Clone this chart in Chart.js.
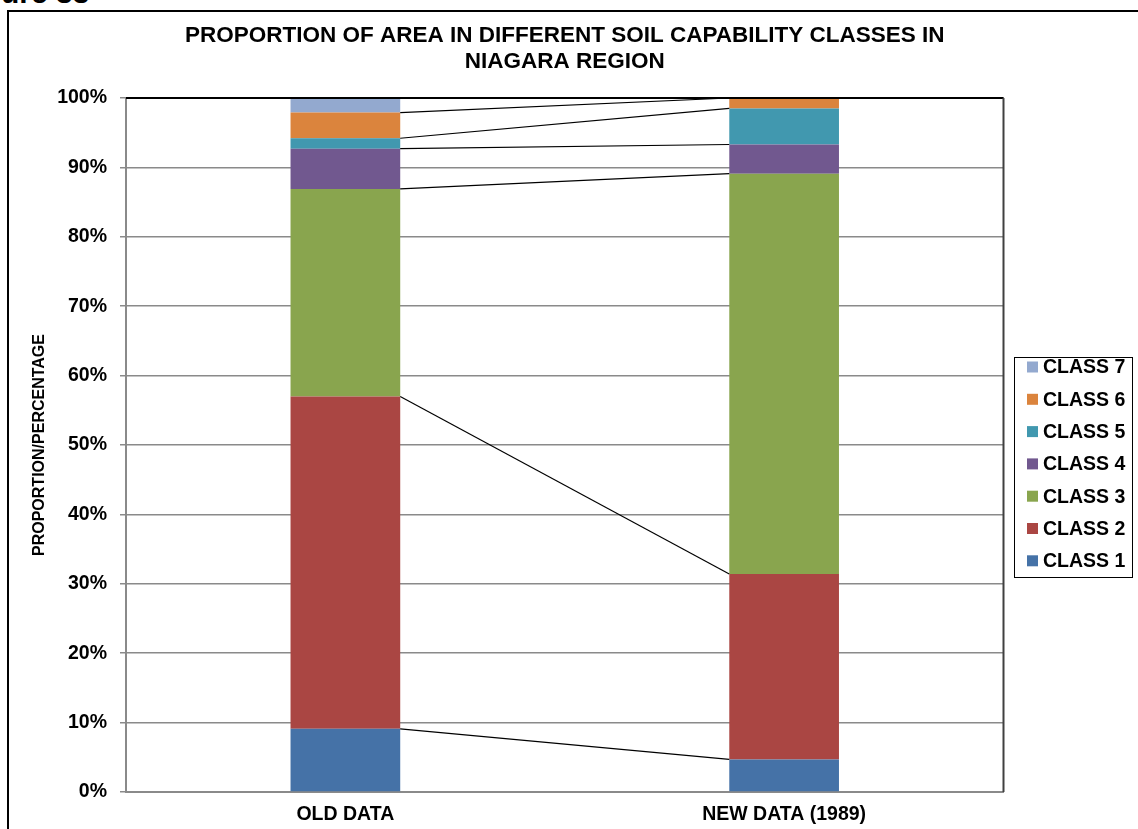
<!DOCTYPE html>
<html>
<head>
<meta charset="utf-8">
<script src="https://cdn.jsdelivr.net/npm/chart.js@4.4.1/dist/chart.umd.min.js"></script>
<style>
  html, body { margin: 0; padding: 0; background: #fff; overflow: hidden; }
  #wrap { position: relative; width: 1138px; height: 829px; }
  #fig { position: absolute; left: -44px; top: -24px; font: bold 30px "Liberation Sans", Arial, sans-serif; color: #000; white-space: nowrap; }
  #frame { position: absolute; left: 7px; top: 10px; width: 1200px; height: 900px; border-left: 2px solid #000; border-top: 2px solid #000; }
  canvas { position: absolute; left: 0; top: 0; }
</style>
</head>
<body>
<div id="wrap">
  <div id="fig">Figure 33</div>
  <div id="frame"></div>
  <canvas id="c" width="1138" height="829"></canvas>
</div>
<script>
// Soil capability classes, share of area (%)
const categories = ['OLD DATA', 'NEW DATA (1989)'];
const class1 = [9.1, 4.7];
const class2 = [47.9, 26.7];
const class3 = [29.9, 57.7];
const class4 = [5.8, 4.2];
const class5 = [1.5, 5.2];
const class6 = [3.7, 1.5];
const class7 = [2.1, 0];
const yTicks = [0, 10, 20, 30, 40, 50, 60, 70, 80, 90, 100];

const titleLines = ['PROPORTION OF AREA IN DIFFERENT SOIL CAPABILITY CLASSES IN', 'NIAGARA REGION'];
const yTitle = 'PROPORTION/PERCENTAGE';

const FONT = '"Liberation Sans", Arial, sans-serif';

const series = [
  { label: 'CLASS 1', data: class1, color: '#4572A7' },
  { label: 'CLASS 2', data: class2, color: '#AA4643' },
  { label: 'CLASS 3', data: class3, color: '#89A54E' },
  { label: 'CLASS 4', data: class4, color: '#71588F' },
  { label: 'CLASS 5', data: class5, color: '#4198AF' },
  { label: 'CLASS 6', data: class6, color: '#DB843D' },
  { label: 'CLASS 7', data: class7, color: '#93A9CF' }
];

// Titles, plot-area frame, series lines and legend
const decor = {
  id: 'decor',
  afterDatasetsDraw(chart) {
    const ctx = chart.ctx;
    const a = chart.chartArea;
    ctx.save();
    // series lines joining the top of each segment between the two columns
    ctx.strokeStyle = '#000';
    ctx.lineWidth = 1.2;
    chart.data.datasets.forEach((ds, i) => {
      const meta = chart.getDatasetMeta(i);
      const b0 = meta.data[0], b1 = meta.data[1];
      ctx.beginPath();
      ctx.moveTo(b0.x + b0.width / 2, b0.y);
      ctx.lineTo(b1.x - b1.width / 2, b1.y);
      ctx.stroke();
    });
    // plot area frame (top and right)
    ctx.strokeStyle = '#000';
    ctx.lineWidth = 2;
    ctx.beginPath();
    ctx.moveTo(a.left, a.top);
    ctx.lineTo(a.right, a.top);
    ctx.stroke();
    ctx.strokeStyle = '#404040';
    ctx.beginPath();
    ctx.moveTo(a.right, a.top);
    ctx.lineTo(a.right, a.bottom);
    ctx.stroke();
    ctx.restore();
  },
  afterDraw(chart) {
    const ctx = chart.ctx;
    const a = chart.chartArea;
    ctx.save();
    ctx.fillStyle = '#000';
    // chart title
    ctx.font = 'bold 22.5px ' + FONT;
    ctx.textAlign = 'center';
    ctx.textBaseline = 'middle';
    const cx = (a.left + a.right) / 2;
    ctx.fillText(titleLines[0], cx, 36);
    ctx.fillText(titleLines[1], cx, 62);
    // vertical axis title
    ctx.save();
    ctx.translate(40, (a.top + a.bottom) / 2);
    ctx.rotate(-Math.PI / 2);
    ctx.font = 'bold 16px ' + FONT;
    ctx.fillText(yTitle, 0, 0);
    ctx.restore();
    // legend, top class first
    const lx = 1014, ly = 357, lw = 118, lh = 220;
    ctx.strokeStyle = '#000';
    ctx.lineWidth = 1;
    ctx.strokeRect(lx + 0.5, ly + 0.5, lw, lh);
    ctx.font = 'bold 19.5px ' + FONT;
    ctx.textAlign = 'left';
    const n = chart.data.datasets.length;
    for (let k = 0; k < n; k++) {
      const ds = chart.data.datasets[n - 1 - k];
      const y = 367 + k * 32.3;
      ctx.fillStyle = ds.backgroundColor;
      ctx.fillRect(1027, y - 5.5, 11, 11);
      ctx.fillStyle = '#000';
      ctx.fillText(ds.label, 1043, y + 1);
    }
    ctx.restore();
  }
};

new Chart(document.getElementById('c'), {
  type: 'bar',
  data: {
    labels: categories,
    datasets: series.map(s => ({
      label: s.label,
      data: s.data,
      backgroundColor: s.color,
      borderWidth: 0,
      categoryPercentage: 1,
      barPercentage: 0.25
    }))
  },
  options: {
    responsive: false,
    animation: false,
    devicePixelRatio: 1,
    layout: { padding: { top: 98, right: 134.5, left: 0, bottom: 0 } },
    plugins: { legend: { display: false }, tooltip: { enabled: false }, title: { display: false } },
    scales: {
      x: {
        stacked: true,
        grid: { display: false, drawTicks: false },
        border: { display: true, color: '#8a8a8a', width: 2 },
        ticks: { color: '#000', font: { family: FONT, size: 19.5, weight: 'bold' }, padding: 11, maxRotation: 0 },
        afterFit(scale) { scale.height = 37; }
      },
      y: {
        stacked: true,
        min: 0,
        max: 100,
        afterBuildTicks(scale) { scale.ticks = yTicks.map(v => ({ value: v })); },
        grid: { color: '#8a8a8a', lineWidth: 1.5, tickLength: 6, tickColor: '#8a8a8a' },
        border: { display: true, color: '#8a8a8a', width: 2 },
        ticks: {
          color: '#000',
          font: { family: FONT, size: 19.5, weight: 'bold' },
          padding: 13,
          callback: v => v + '%'
        },
        afterFit(scale) { scale.width = 126; }
      }
    }
  },
  plugins: [decor]
});
</script>
</body>
</html>
